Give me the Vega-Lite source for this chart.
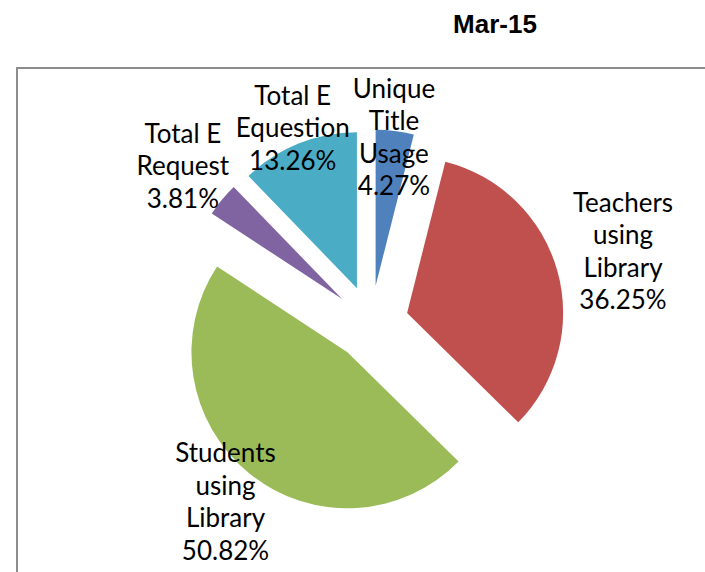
{
  "$schema": "https://vega.github.io/schema/vega-lite/v6.json",
  "autosize": "none",
  "width": 708,
  "height": 510,
  "padding": {"left": 17, "top": 68, "right": 0, "bottom": 0},
  "background": "white",
  "title": {
    "text": "Mar-15",
    "font": "Liberation Sans",
    "fontSize": 26,
    "fontWeight": "bold",
    "color": "black",
    "anchor": "middle",
    "frame": "group",
    "dx": 124,
    "offset": 29
  },
  "config": {
    "view": {"stroke": null}
  },
  "datasets": {
    "usage": [
      {"category": "Unique\nTitle\nUsage", "pct": 4.27, "order": 1},
      {"category": "Teachers\nusing\nLibrary", "pct": 36.25, "order": 2},
      {"category": "Students\nusing\nLibrary", "pct": 50.82, "order": 3},
      {"category": "Total E\nRequest", "pct": 3.81, "order": 4},
      {"category": "Total E\nEquestion", "pct": 13.26, "order": 5}
    ],
    "frame": [{"box": "plot"}]
  },
  "layer": [
    {
      "data": {"name": "frame"},
      "mark": {"type": "rect", "fill": null, "fillOpacity": 0, "stroke": "#8c8c8c", "strokeWidth": 2},
      "encoding": {}
    },
    {
      "data": {"name": "usage"},
      "mark": {
        "type": "arc",
        "outerRadius": 156,
        "x": {"expr": "width/2 + 37.5*sin((scale('theta', datum.pct_start) + scale('theta', datum.pct_end))/2)"},
        "y": {"expr": "height/2 - 37.5*cos((scale('theta', datum.pct_start) + scale('theta', datum.pct_end))/2)"}
      },
      "encoding": {
        "theta": {"field": "pct", "type": "quantitative", "stack": true},
        "order": {"field": "order", "type": "ordinal"},
        "color": {
          "field": "category",
          "type": "nominal",
          "scale": {
            "domain": ["Unique\nTitle\nUsage", "Teachers\nusing\nLibrary", "Students\nusing\nLibrary", "Total E\nRequest", "Total E\nEquestion"],
            "range": ["#4F81BD", "#C0504D", "#9BBB59", "#8064A2", "#4BACC6"]
          },
          "legend": null
        }
      }
    },
    {
      "data": {"name": "usage"},
      "transform": [
        {"calculate": "datum.category + '\\n' + format(datum.pct, '.2f') + '%'", "as": "label"}
      ],
      "mark": {
        "type": "text",
        "font": "Lato",
        "fontSize": 26,
        "lineHeight": 32.5,
        "lineBreak": "\n",
        "align": "center",
        "baseline": "middle",
        "color": "black",
        "dy": {"expr": "-(length(split(datum.label, '\\n')) - 1) * 16.25"},
        "radius": {"expr": "175 + 90*abs(sin((scale('theta', datum.pct_start) + scale('theta', datum.pct_end))/2))"}
      },
      "encoding": {
        "theta": {"field": "pct", "type": "quantitative", "stack": true},
        "order": {"field": "order", "type": "ordinal"},
        "text": {"field": "label", "type": "nominal"}
      }
    }
  ]
}
